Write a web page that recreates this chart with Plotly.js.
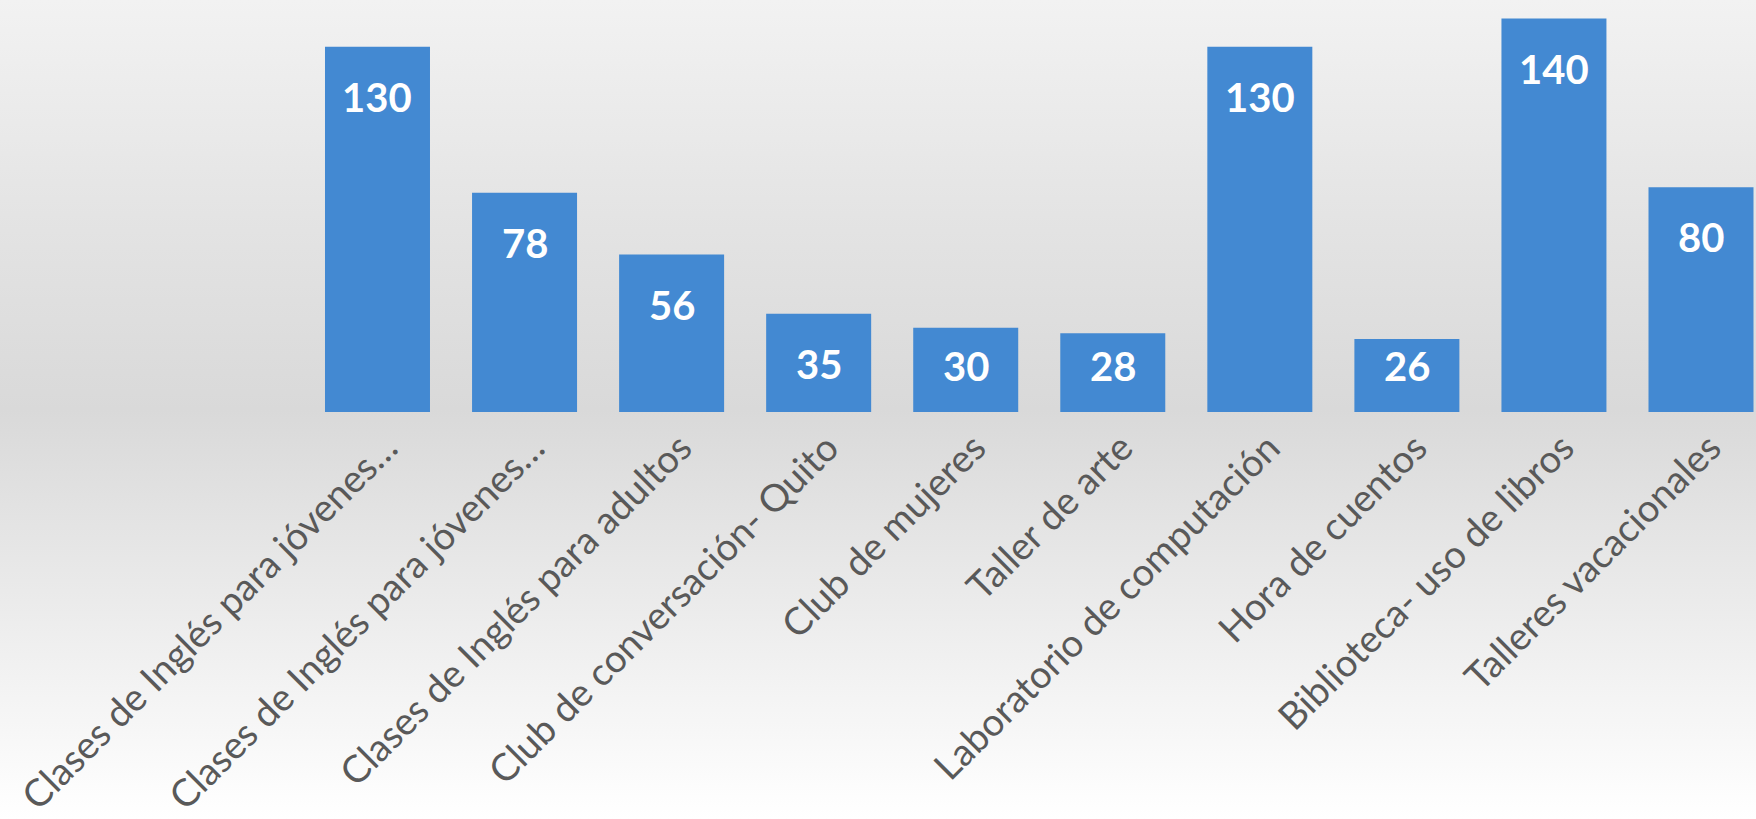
<!DOCTYPE html>
<html>
<head>
<meta charset="utf-8">
<script src="https://cdn.plot.ly/plotly-3.0.1.min.js"></script>
<style>
  html, body { margin: 0; padding: 0; }
  #chart {
    width: 1756px; height: 819px;
    background: linear-gradient(to bottom, #f2f2f2 0%, #e3e3e3 28%, #d9d9d9 50%, #f0f0f0 80%, #ffffff 100%);
  }
</style>
</head>
<body>
<div id="chart"></div>
<script>
const categories = [
  "Clases de Inglés para jóvenes…",
  "Clases de Inglés para jóvenes…",
  "Clases de Inglés para adultos",
  "Club de conversación- Quito",
  "Club de mujeres",
  "Taller de arte",
  "Laboratorio de computación",
  "Hora de cuentos",
  "Biblioteca- uso de libros",
  "Talleres vacacionales"
];
const values = [130, 78, 56, 35, 30, 28, 130, 26, 140, 80];
const positions = categories.map((_, i) => i);

const W = 1756, H = 819;
const marginB = 407;
const yMax = 146.6;
const pxPerUnit = (H - marginB) / yMax;

const trace = {
  type: 'bar',
  x: positions,
  y: values,
  text: categories,
  textposition: 'none',
  marker: { color: '#4389d2', line: { width: 0 } },
  hovertemplate: '%{text}: %{y}<extra></extra>'
};

// Labels sit near the inside end of each bar; on short bars they stay a fixed distance above the base.
const annotations = positions.map((p, i) => {
  const fitsAtTop = values[i] * pxPerUnit - 50 >= 46;
  return {
    x: p, y: fitsAtTop ? values[i] : 0, xref: 'x', yref: 'y',
    text: String(values[i]), showarrow: false,
    yanchor: 'middle', yshift: fitsAtTop ? -50 : 46,
    font: { family: 'Lato, "Open Sans", sans-serif', size: 40, color: '#ffffff', weight: 'bold' }
  };
});

const layout = {
  width: W, height: H,
  margin: { l: 0, r: 0, t: 0, b: marginB, pad: 0 },
  paper_bgcolor: 'rgba(0,0,0,0)',
  plot_bgcolor: 'rgba(0,0,0,0)',
  bargap: 0.286,
  showlegend: false,
  xaxis: {
    type: 'linear',
    range: [-2.567, 9.374],
    tickmode: 'array',
    tickvals: positions,
    ticktext: categories,
    showgrid: false, zeroline: false, showline: false,
    ticks: '', tickangle: -45,
    tickfont: { family: 'Lato, "Open Sans", sans-serif', size: 38, color: '#595959' },
    ticklabelshift: 9,
    ticklabelstandoff: 5,
    automargin: false, fixedrange: true
  },
  yaxis: {
    range: [0, yMax],
    showgrid: false, zeroline: false, showline: false,
    showticklabels: false, ticks: '',
    automargin: false, fixedrange: true
  },
  annotations: annotations
};

Plotly.newPlot('chart', [trace], layout, { displayModeBar: false, staticPlot: true });
</script>
</body>
</html>
